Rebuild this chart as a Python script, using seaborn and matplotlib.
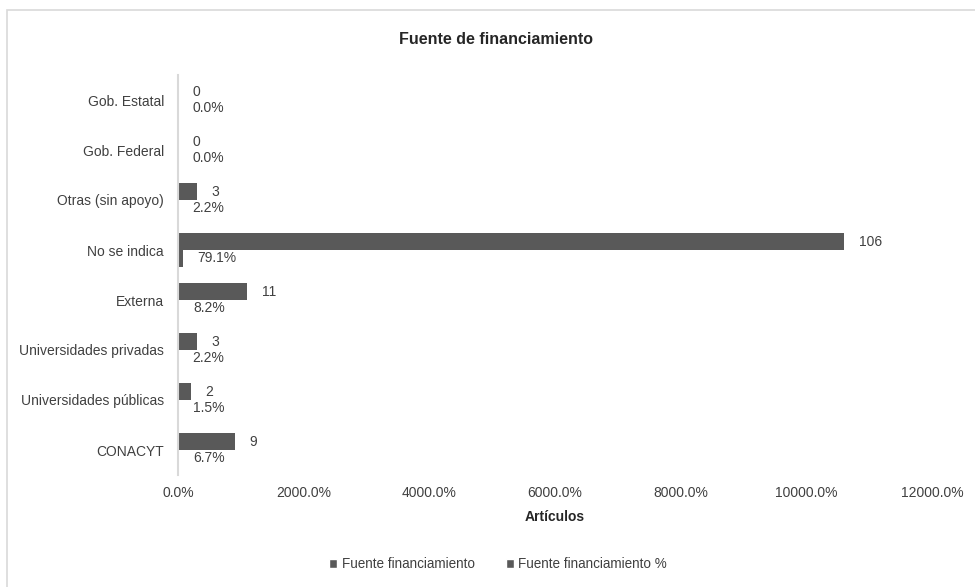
import matplotlib
matplotlib.use("Agg")
import matplotlib.pyplot as plt
from matplotlib.patches import Rectangle
from matplotlib.ticker import FuncFormatter
import seaborn as sns
import pandas as pd

categories = ["Gob. Estatal", "Gob. Federal", "Otras (sin apoyo)", "No se indica",
              "Externa", "Universidades privadas", "Universidades públicas", "CONACYT"]
counts = [0, 0, 3, 106, 11, 3, 2, 9]
percents = [0.0, 0.0, 2.2, 79.1, 8.2, 2.2, 1.5, 6.7]
series_names = ["Fuente financiamiento", "Fuente financiamiento %"]
x_ticks = [0, 20, 40, 60, 80, 100, 120]

sns.set_style("white")
plt.rcParams["font.family"] = ["Liberation Sans", "DejaVu Sans"]
text_color = "#404040"
bar_color = "#595959"

df = pd.DataFrame({
    "Categoria": categories * 2,
    "Valor": counts + [p / 100 for p in percents],
    "Serie": [series_names[0]] * len(categories) + [series_names[1]] * len(categories),
})

fig = plt.figure(figsize=(9.75, 5.87), dpi=100)
ax = fig.add_axes([178 / 975, 1 - 475 / 587, (932 - 178) / 975, 400 / 587])

sns.barplot(data=df, y="Categoria", x="Valor", hue="Serie", orient="h",
            palette=[bar_color, bar_color], width=0.68, linewidth=0,
            legend=False, ax=ax, order=categories, hue_order=series_names)

ax.bar_label(ax.containers[0], labels=[str(c) for c in counts], padding=10.5,
             fontsize=10, color=text_color)
ax.bar_label(ax.containers[1], labels=[f"{p:.1f}%" for p in percents], padding=10.5,
             fontsize=10, color=text_color)

ax.set_xlim(0, 120)
ax.set_xticks(x_ticks)
ax.xaxis.set_major_formatter(FuncFormatter(lambda v, _: f"{v * 100:.1f}%"))
ax.tick_params(axis="both", length=0, labelsize=10, colors=text_color)
ax.tick_params(axis="x", pad=8)
ax.tick_params(axis="y", pad=10)
ax.set_ylabel("")
ax.set_xlabel("Artículos", fontsize=10, fontweight="bold", color="#262626", labelpad=7)

for s in ["top", "right", "bottom"]:
    ax.spines[s].set_visible(False)
ax.spines["left"].set_color("#d9d9d9")
ax.spines["left"].set_linewidth(1.5)

fig.text(496 / 975, 1 - 40 / 587, "Fuente de financiamiento", ha="center", va="center",
         fontsize=11.5, fontweight="bold", color="#262626")

handles = [Rectangle((0, 0), 1, 1, facecolor=bar_color) for _ in series_names]
fig.legend(handles, series_names, loc="center", bbox_to_anchor=(498 / 975, 1 - 564 / 587),
           ncol=2, frameon=False, fontsize=9.75, labelcolor=text_color,
           handlelength=0.6, handleheight=0.6, handletextpad=0.3, columnspacing=2.3)

border = Rectangle((7 / 975, -0.2), 1.2, 1.2 - 10 / 587, transform=fig.transFigure,
                   fill=False, edgecolor="#d9d9d9", linewidth=1.2, clip_on=False)
fig.patches.append(border)

fig.savefig("out.png", dpi=100)
